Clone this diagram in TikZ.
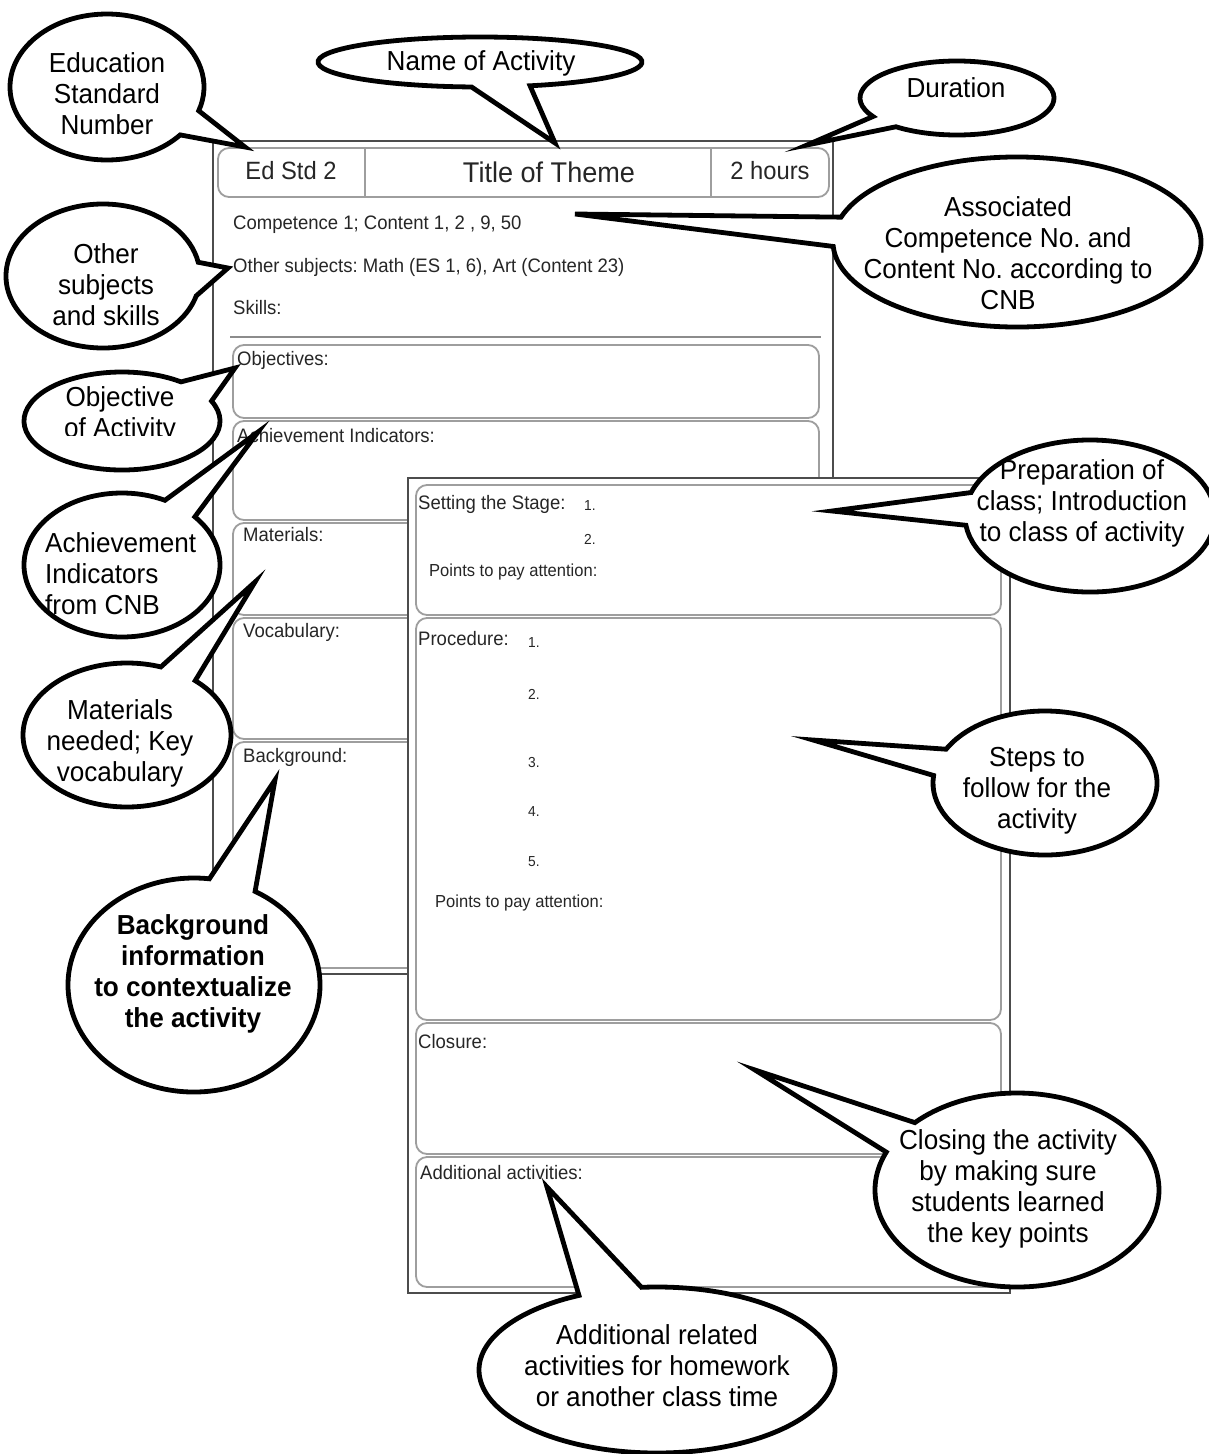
\documentclass[tikz,border=0pt]{standalone}
\usepackage{fontspec}
\setmainfont{Liberation Sans}[FakeStretch=0.95]
\frenchspacing
\newcommand\bubbleshape[8]{% cx cy rx ry startangle endangle tip name
  \draw[bubble] (#1,#2) ++(#5:#3 and #4) arc[start angle=#5, end angle=#6, x radius=#3, y radius=#4] -- (#7) -- cycle;}
\begin{document}
\frenchspacing
\begin{tikzpicture}[x=1pt,y=-1pt,
  pagebox/.style={draw=black!70, line width=1.3pt, fill=white},
  sect/.style={draw=black!38, line width=1.8pt, rounded corners=11pt},
  bubble/.style={draw=black, line width=4.8pt, fill=white, line join=miter},
  ftxt/.style={font=\fontsize{19.5}{22}\selectfont, text=black!85, inner sep=0pt, anchor=west},
  ptxt/.style={font=\fontsize{17.4}{20}\selectfont, text=black!85, inner sep=0pt, anchor=west},
  ntxt/.style={font=\fontsize{14.5}{16}\selectfont, text=black!85, inner sep=0pt, anchor=west},
  htxt/.style={font=\fontsize{25}{28}\selectfont, text=black!85, inner sep=0pt},
  ctxt/.style={font=\fontsize{27.5}{31}\selectfont, align=center, inner sep=0pt}]
\useasboundingbox (0,0) rectangle (1208,1454);

% ---------------- back page ----------------
\draw[pagebox] (213,141) rectangle (833,974);
\draw[sect, fill=white] (218,148) rectangle (829,197);
\draw[draw=black!38, line width=1.6pt] (365,148) -- (365,197) (711,148) -- (711,197);
\node[htxt] (edstd) at (291,171) {Ed Std 2};
\node[htxt, font=\fontsize{28.5}{30}\selectfont] (title) at (549,172) {Title of Theme};
\node[htxt] (hours) at (770,171) {2 hours};
\node[ftxt] (comp) at (233,225) {Competence 1; Content 1, 2 , 9, 50};
\node[ftxt] (other) at (233,267) {Other subjects: Math (ES 1, 6), Art (Content 23)};
\node[ftxt] (skills) at (233,308) {Skills:};
\draw[draw=black!45, line width=1.5pt] (230,337) -- (821,337);
\draw[sect] (233,345) rectangle (819,418);
\draw[sect] (233,421) rectangle (819,520);
\draw[sect] (233,523) rectangle (819,615);
\draw[sect] (233,618) rectangle (819,739);
\draw[sect] (233,742) rectangle (819,968);
\node[ftxt] (obj) at (237,360) {Objectives:};
\node[ftxt] (ach) at (237,436) {Achievement Indicators:};
\node[ftxt] (mat) at (243,535) {Materials:};
\node[ftxt] (voc) at (243,632) {Vocabulary:};
\node[ftxt] (bg) at (243,757) {Background:};

% ---------------- front page ----------------
\draw[pagebox] (408,478) rectangle (1010,1293);
\draw[sect] (416,485) rectangle (1001,615);
\draw[sect] (416,618) rectangle (1001,1020);
\draw[sect] (416,1023) rectangle (1001,1154);
\draw[sect] (416,1157) rectangle (1001,1287);
\node[ftxt] (stage) at (418,504) {Setting the Stage:};
\node[ntxt] (s1) at (584,506) {1.};
\node[ntxt] (s2) at (584,539) {2.};
\node[ptxt] (pts1) at (429,572) {Points to pay attention:};
\node[ftxt] (proc) at (418,639) {Procedure:};
\node[ntxt] (p1) at (528,643) {1.};
\node[ntxt] (p2) at (528,694) {2.};
\node[ntxt] (p3) at (528,762) {3.};
\node[ntxt] (p4) at (528,812) {4.};
\node[ntxt] (p5) at (528,862) {5.};
\node[ptxt] (pts2) at (435,903) {Points to pay attention:};
\node[ftxt] (clos) at (418,1042) {Closure:};
\node[ftxt] (addl) at (420,1173) {Additional activities:};

% ---------------- callout tips ----------------
\coordinate (tEdu) at (245,147);
\coordinate (tName) at (555,143);
\coordinate (tDur) at (807,145);
\coordinate (tAss) at (575,214);
\coordinate (tOth) at (228,268);
\coordinate (tObj) at (235,368);
\coordinate (tAch) at (258,432);
\coordinate (tMat) at (255,582);
\coordinate (tBg) at (275,780);
\coordinate (tPrep) at (832,511);
\coordinate (tStep) at (813,740);
\coordinate (tClos) at (755,1070);
\coordinate (tAdd) at (547,1187);

% ---------------- callouts ----------------
\bubbleshape{107}{87}{97}{73}{41}{379}{tEdu}{}
\node[ctxt] (cEdu) at (107,94) {Education\\Standard\\Number};

\bubbleshape{480}{62}{162}{25}{93}{432}{tName}{}
\node[ctxt] (cName) at (481,63) {Name of Activity};

\bubbleshape{957}{98}{97}{37}{150}{489}{tDur}{}
\node[ctxt] (cDur) at (956,88) {Duration};

\bubbleshape{1017}{242}{184}{85}{197}{537}{tAss}{}
\node[ctxt] (cAss) at (1008,253) {Associated\\Competence No. and\\Content No. according to\\CNB};

\bubbleshape{103}{276}{97}{72}{16}{349}{tOth}{}
\node[ctxt] (cOth) at (106,285) {Other\\subjects\\and skills};

\bubbleshape{122}{421}{98}{49}{-24}{307}{tObj}{}
\begin{scope}
\clip (0,0) rectangle (300,435);
\node[ctxt] (cObj) at (120,415) {Objective\\of Activity};
\end{scope}

\bubbleshape{122}{565}{98}{72}{-42}{296}{tAch}{}
\node[ctxt, align=left, anchor=west] (cAch) at (45,574) {Achievement\\Indicators\\from CNB};

\bubbleshape{127}{735}{104}{72}{-49}{289}{tMat}{}
\node[ctxt] (cMat) at (120,743) {Materials\\needed; Key\\vocabulary};

\bubbleshape{194}{985}{126}{107}{-61}{277}{tBg}{}
\node[ctxt, font=\fontsize{27.5}{31}\selectfont\bfseries] (cBg) at (193,974) {Background\\information\\to contextualize\\the activity};

\bubbleshape{1090}{516}{125}{76}{198}{533}{tPrep}{}
\node[ctxt] (cPrep) at (1082,503) {Preparation of\\class; Introduction\\to class of activity};

\bubbleshape{1045}{783}{112}{72}{208}{546}{tStep}{}
\node[ctxt] (cStep) at (1037,791) {Steps to\\follow for the\\activity};

\bubbleshape{1017}{1190}{142}{97}{224}{563}{tClos}{}
\node[ctxt] (cClos) at (1008,1189) {Closing the activity\\by making sure\\students learned\\the key points};

\bubbleshape{657}{1370}{178}{83}{-95}{244}{tAdd}{}
\node[ctxt] (cAdd) at (657,1366) {Additional related\\activities for homework\\or another class time};
\end{tikzpicture}
\end{document}
